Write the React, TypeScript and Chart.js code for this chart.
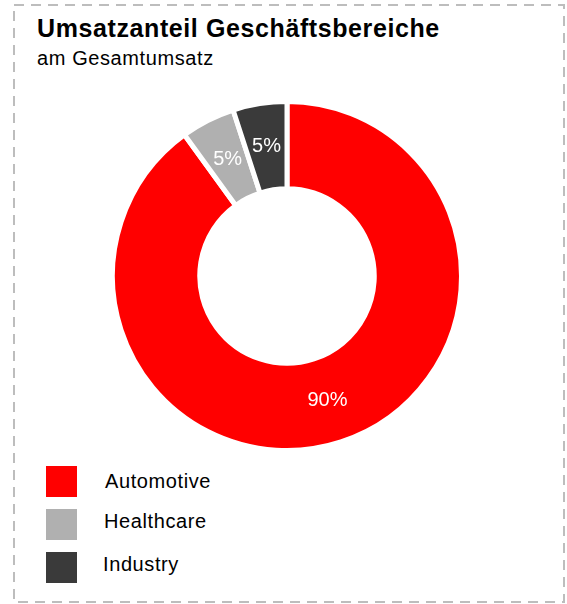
import React, { useEffect, useRef } from "react";
import { Chart, registerables } from "chart.js";

Chart.register(...registerables);

const categories = ["Automotive", "Healthcare", "Industry"];
const shares = [90, 5, 5];
const colors = ["#ff0000", "#b0b0b0", "#3a3a3a"];
const valueLabels = ["90%", "5%", "5%"];

const labelPlugin = {
  id: "sliceLabels",
  afterDatasetsDraw(chart: any) {
    const { ctx } = chart;
    const meta = chart.getDatasetMeta(0);
    ctx.save();
    ctx.fillStyle = "#ffffff";
    ctx.font = "20px 'Liberation Sans', Arial, sans-serif";
    ctx.textAlign = "center";
    ctx.textBaseline = "middle";
    meta.data.forEach((arc: any, i: number) => {
      const p = arc.tooltipPosition();
      ctx.fillText(valueLabels[i], p.x, p.y);
    });
    ctx.restore();
  },
};

export default function App() {
  const ref = useRef<HTMLCanvasElement>(null);
  useEffect(() => {
    document.body.style.margin = "0";
    const chart = new Chart(ref.current!, {
      type: "doughnut",
      data: {
        labels: categories,
        datasets: [
          {
            data: shares,
            backgroundColor: colors,
            borderColor: "#ffffff",
            borderWidth: 5,
            hoverOffset: 0,
          },
        ],
      },
      options: {
        animation: false,
        responsive: false,
        cutout: "50%",
        layout: { padding: 0 },
        plugins: {
          legend: { display: false },
          tooltip: { enabled: false },
          title: { display: false },
        },
      },
      plugins: [labelPlugin],
    });
    return () => chart.destroy();
  }, []);

  const font = "'Liberation Sans', Arial, sans-serif";
  const legendTops = [471.4, 511.4, 554.1];
  const legendLefts = [105, 104, 103];
  return (
    <div style={{ position: "relative", width: 567, height: 604, fontFamily: font, color: "#000" }}>
      <svg width={567} height={604} style={{ position: "absolute", left: 0, top: 0 }}>
        <rect x={14} y={5} width={550} height={597} fill="none" stroke="#bdbdbd" strokeWidth={2} strokeDasharray="10 7" />
      </svg>
      <div style={{ position: "absolute", left: 37, top: 15.5, fontSize: 25, lineHeight: "25px", fontWeight: "bold", letterSpacing: "0.6px", whiteSpace: "nowrap" }}>
        Umsatzanteil Geschäftsbereiche
      </div>
      <div style={{ position: "absolute", left: 37, top: 48, fontSize: 20, lineHeight: "20px", letterSpacing: "0.6px", whiteSpace: "nowrap" }}>
        am Gesamtumsatz
      </div>
      <canvas ref={ref} width={354} height={354} style={{ position: "absolute", left: 110, top: 99, width: 354, height: 354 }} />
      {categories.map((c, i) => (
        <React.Fragment key={c}>
          <div style={{ position: "absolute", left: 46, top: 466 + i * 43, width: 31, height: 31, background: colors[i] }} />
          <div style={{ position: "absolute", left: legendLefts[i], top: legendTops[i], fontSize: 20, lineHeight: "20px", letterSpacing: "0.6px", whiteSpace: "nowrap" }}>
            {c}
          </div>
        </React.Fragment>
      ))}
    </div>
  );
}
